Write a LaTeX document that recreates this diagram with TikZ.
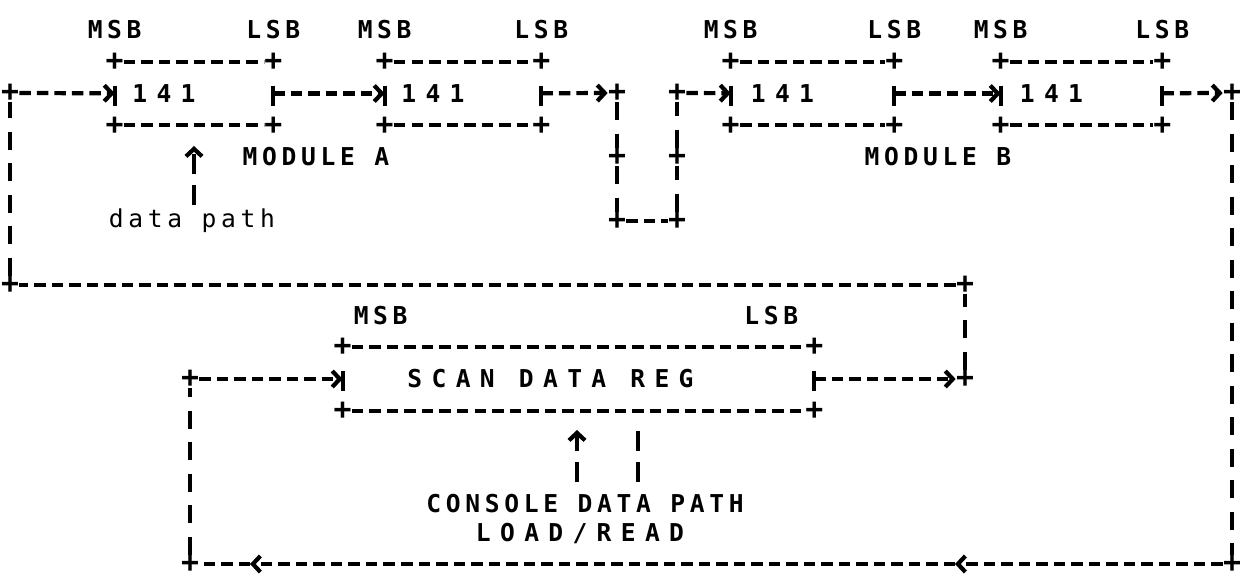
\documentclass[tikz,border=0pt]{standalone}
\usepackage{fontspec}
\usetikzlibrary{arrows.meta,positioning}
\newfontfamily\asciifont[LetterSpace=19]{DejaVu Sans Mono}
\newfontfamily\plusfont{DejaVu Sans Mono}

\tikzset{
  bus/.style={line width=2.4pt, dash pattern=on 2.3mm off 1.2mm},
  riser/.style={line width=2.4pt, dash pattern=on 3.6mm off 2.7mm},
  tick/.style={line width=2.4pt, dash pattern=on 4mm off 2.2mm},
  side/.style={line width=2.4pt, dash pattern=on 0pt off 3mm on 4mm off 20mm},
  arr/.style={-{Straight Barb[length=1.5mm,width=3.2mm]}},
  joint/.style={font=\plusfont\bfseries\fontsize{17}{17}\selectfont, inner sep=0pt},
  lbl/.style={font=\asciifont\bfseries\fontsize{14}{16}\selectfont, inner sep=0pt},
  note/.style={font=\asciifont\fontsize{14}{16}\selectfont, inner sep=0pt},
  wide/.style={font=\asciifont\bfseries\fontsize{14}{16}\selectfont\addfontfeature{LetterSpace=38}, inner sep=0pt},
  num/.style={wide, xshift=-6mm},
  reg/.style={minimum height=12.6mm, inner sep=0pt},
}

\begin{document}
\begin{tikzpicture}[x=0.2mm, y=-0.2mm]
\useasboundingbox (0,0) rectangle (1242,581);

% registers
\node[reg, minimum width=31.6mm, label={[num]center:141}] (a1) at (194,93.5) {};
\node[reg, minimum width=31.2mm, label={[num]center:141}] (a2) at (463,93.5) {};
\node[reg, minimum width=32.6mm, label={[num]center:141}] (b1) at (812.5,93.5) {};
\node[reg, minimum width=32.2mm, label={[num]center:141}] (b2) at (1081.5,93.5) {};
\node[reg, minimum width=94.2mm, label={[wide,xshift=-5.6mm]center:SCAN DATA REG}] (scan) at (578.5,379) {};

\foreach \b in {a1,a2,b1,b2,scan} {
  \foreach \c/\s in {north west/nw,north east/ne,south west/sw,south east/se}
    \node[joint] (\b\s) at (\b.\c) {+};
  \draw[bus] (\b nw) -- (\b ne);
  \draw[bus] (\b sw) -- (\b se);
  \draw[side] (\b nw) -- (\b sw);
  \draw[side] (\b ne) -- (\b se);
}

% bit order
\foreach \b in {a1,a2,b1,b2} {
  \node[lbl, above=4.4mm of \b.north west] (\b msb) {MSB};
  \node[lbl, above=4.4mm of \b.north east] (\b lsb) {LSB};
}
\node[lbl, above=4.4mm of scan.north west, xshift=7.6mm] (scanmsb) {MSB};
\node[lbl, above=4.4mm of scan.north east, xshift=-8.6mm] (scanlsb) {LSB};

\node[lbl] (moda) at (316,157) {MODULE A};
\node[lbl] (modb) at (938,157) {MODULE B};
\node[note] (dpath) at (192,221) {data path};
\node[lbl] (console) at (585,504) {CONSOLE DATA PATH};
\node[wide] (loadread) at (580,534) {LOAD/READ};

% scan ring
\node[joint] (ain) at (10,93) {+};
\node[joint] (aout) at (617,93) {+};
\node[joint] (aj) at (617,157) {+};
\node[joint] (ab) at (617,221) {+};
\node[joint] (bb) at (677,221) {+};
\node[joint] (bj) at (677,157) {+};
\node[joint] (bin) at (677,93) {+};
\node[joint] (bout) at (1232,93) {+};
\node[joint] (rb) at (1232,564) {+};
\node[joint] (lbt) at (190,564) {+};
\node[joint] (sin) at (190,379) {+};
\node[joint] (sout) at (965,379) {+};
\node[joint] (up) at (965,285) {+};
\node[joint] (lb) at (10,285) {+};
\coordinate (lt1) at (955,564);
\coordinate (lt2) at (250,564);

\draw[bus,arr] (ain) -- (a1);
\draw[bus,arr] (a1) -- (a2);
\draw[bus,arr] (a2) -- (aout);
\draw[riser] (aout) -- (aj);
\draw[riser] (aj) -- (ab);
\draw[bus] (ab) -- (bb);
\draw[riser] (bb) -- (bj);
\draw[riser] (bj) -- (bin);
\draw[bus,arr] (bin) -- (b1);
\draw[bus,arr] (b1) -- (b2);
\draw[bus,arr] (b2) -- (bout);
\draw[riser] (bout) -- (rb);
\draw[bus,arr] (rb) -- (lt1);
\draw[bus,arr] (lt1) -- (lt2);
\draw[bus] (lt2) -- (lbt);
\draw[riser] (lbt) -- (sin);
\draw[bus,arr] (sin) -- (scan);
\draw[bus,arr] (scan) -- (sout);
\draw[riser] (sout) -- (up);
\draw[bus] (up) -- (lb);
\draw[riser] (lb) -- (ain);

% data paths
\coordinate (dp) at (194,205);
\draw[tick,arr] (dp) -- (194,146);
\coordinate (ld) at (577,482);
\coordinate (rd) at (638,482);
\draw[tick,arr] (ld) -- (ld |- 0,430);
\draw[tick] (rd) -- (rd |- 0,428);
\end{tikzpicture}
\end{document}
